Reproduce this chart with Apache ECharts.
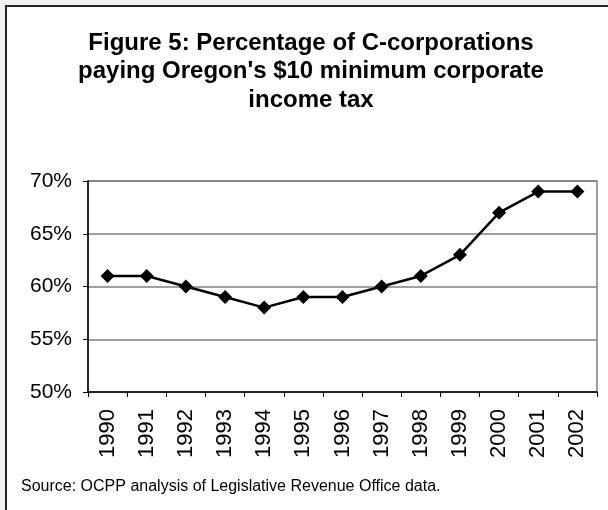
<!DOCTYPE html>
<html>
<head>
<meta charset="utf-8">
<script src="https://cdn.jsdelivr.net/npm/echarts@6/dist/echarts.min.js"></script>
<style>
html,body{margin:0;padding:0;background:#f2f2f2;}
#c{width:608px;height:510px;}
</style>
</head>
<body>
<div id="c"></div>
<script>
const years = ['1990','1991','1992','1993','1994','1995','1996','1997','1998','1999','2000','2001','2002'];
const pctValues = [61,61,60,59,58,59,59,60,61,63,67,69,69];
const yTicks = {min:50, max:70, interval:5};
const titleText = "Figure 5: Percentage of C-corporations\npaying Oregon's $10 minimum corporate\nincome tax";
const sourceText = "Source: OCPP analysis of Legislative Revenue Office data.";

const chart = echarts.init(document.getElementById('c'), null, {renderer:'canvas'});
const FF = '"Liberation Sans", Arial, sans-serif';
chart.setOption({
  animation:false,
  backgroundColor:'#f2f2f2',
  graphic:[
    {type:'rect', z:-10, shape:{x:6, y:6, width:640, height:540}, style:{fill:'#ffffff', stroke:'#222222', lineWidth:2}},
    {type:'text', x:311, y:29, style:{text:titleText, font:'bold 24px '+FF, fill:'#000', align:'center', verticalAlign:'top', lineHeight:28.5}},
    {type:'text', left:21, top:479, style:{text:sourceText, font:'16px '+FF, fill:'#000'}}
  ],
  grid:{left:88, top:181, right:11, bottom:118, show:true, borderColor:'#808080', borderWidth:1.5, backgroundColor:'transparent'},
  xAxis:{
    type:'category', data:years, boundaryGap:true,
    axisLine:{lineStyle:{color:'#000', width:1.5}},
    axisTick:{show:true, length:5, lineStyle:{color:'#000'}, alignWithLabel:false},
    axisLabel:{rotate:90, fontFamily:FF, fontSize:22, color:'#000', margin:17, interval:0}
  },
  yAxis:{
    type:'value', min:yTicks.min, max:yTicks.max, interval:yTicks.interval,
    axisLine:{show:true, lineStyle:{color:'#000', width:1.5}},
    axisTick:{show:true, length:5, lineStyle:{color:'#000'}},
    axisLabel:{formatter:'{value}%', fontFamily:FF, fontSize:21, color:'#000', margin:16},
    splitLine:{lineStyle:{color:'#808080', width:1.5}}
  },
  series:[{
    type:'line', data:pctValues,
    symbol:'diamond', symbolSize:[14,14],
    lineStyle:{color:'#000', width:2.5},
    itemStyle:{color:'#000'}
  }]
});
</script>
</body>
</html>
